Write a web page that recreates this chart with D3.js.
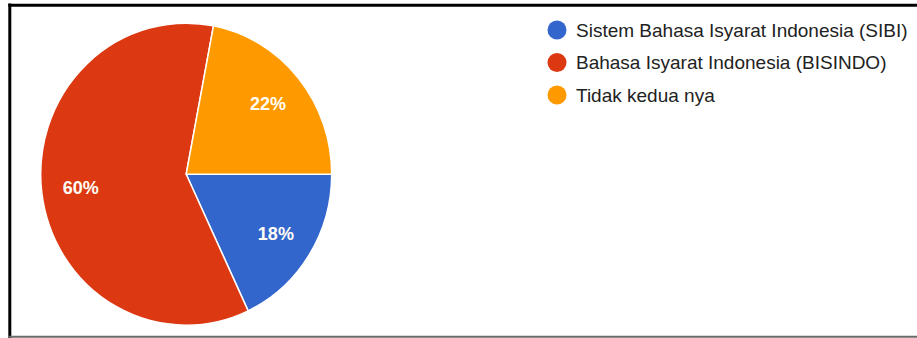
<!DOCTYPE html>
<html>
<head>
<meta charset="utf-8">
<script src="https://cdn.jsdelivr.net/npm/d3@7"></script>
<style>
  html, body { margin: 0; padding: 0; background: #fff; }
  svg { display: block; }
</style>
</head>
<body>
<svg id="chart" width="917" height="338"></svg>
<script>
const categories = ["Sistem Bahasa Isyarat Indonesia (SIBI)", "Bahasa Isyarat Indonesia (BISINDO)", "Tidak kedua nya"];
const values = [18, 60, 22];
const sliceLabels = ["18%", "60%", "22%"];
const colors = ["#3366cc", "#dc3912", "#ff9900"];

const svg = d3.select("#chart");
const W = 917, H = 338;

// frame
svg.append("line").attr("x1", 9.8).attr("y1", 3.5).attr("x2", 9.8).attr("y2", 338)
  .attr("stroke", "#000").attr("stroke-width", 3);
svg.append("line").attr("x1", 8.3).attr("y1", 5.3).attr("x2", W).attr("y2", 5.3)
  .attr("stroke", "#000").attr("stroke-width", 3);
svg.append("line").attr("x1", 8.3).attr("y1", 336.8).attr("x2", W).attr("y2", 336.8)
  .attr("stroke", "#6a6a6a").attr("stroke-width", 2);

const cx = 186.2, cy = 174.2, rx = 145.5, ry = 151;
const pie = d3.pie().sort(null).value(d => d)
  .startAngle(Math.PI / 2).endAngle(Math.PI / 2 + 2 * Math.PI);
const arcs = pie(values);
const arc = d3.arc().innerRadius(0).outerRadius(rx);

const g = svg.append("g").attr("transform", `translate(${cx},${cy}) scale(1,${ry / rx})`);
g.selectAll("path").data(arcs).join("path")
  .attr("d", arc)
  .attr("fill", (d, i) => colors[i])
  .attr("stroke", "#fff")
  .attr("stroke-width", 1.5)
  .attr("vector-effect", "non-scaling-stroke");

const labelArc = d3.arc().innerRadius(rx * 0.73).outerRadius(rx * 0.73);
svg.append("g").attr("transform", `translate(${cx},${cy})`)
  .selectAll("text").data(arcs).join("text")
  .attr("x", d => labelArc.centroid(d)[0])
  .attr("y", d => labelArc.centroid(d)[1] * ry / rx)
  .attr("dy", "0.36em")
  .attr("text-anchor", "middle")
  .attr("font-family", "'Liberation Sans', Arial, sans-serif")
  .attr("font-weight", "bold")
  .attr("font-size", 18)
  .attr("fill", "#fffdf5")
  .text((d, i) => sliceLabels[i]);

// legend
const legend = svg.append("g").attr("transform", "translate(557,30)");
const rows = legend.selectAll("g").data(categories).join("g")
  .attr("transform", (d, i) => `translate(0,${i * 32.5})`);
rows.append("circle").attr("r", 9.5).attr("fill", (d, i) => colors[i]);
rows.append("text")
  .attr("x", 19).attr("dy", "0.35em")
  .attr("font-family", "'Liberation Sans', Arial, sans-serif")
  .attr("font-size", 19)
  .attr("fill", "#222")
  .text(d => d);
</script>
</body>
</html>
